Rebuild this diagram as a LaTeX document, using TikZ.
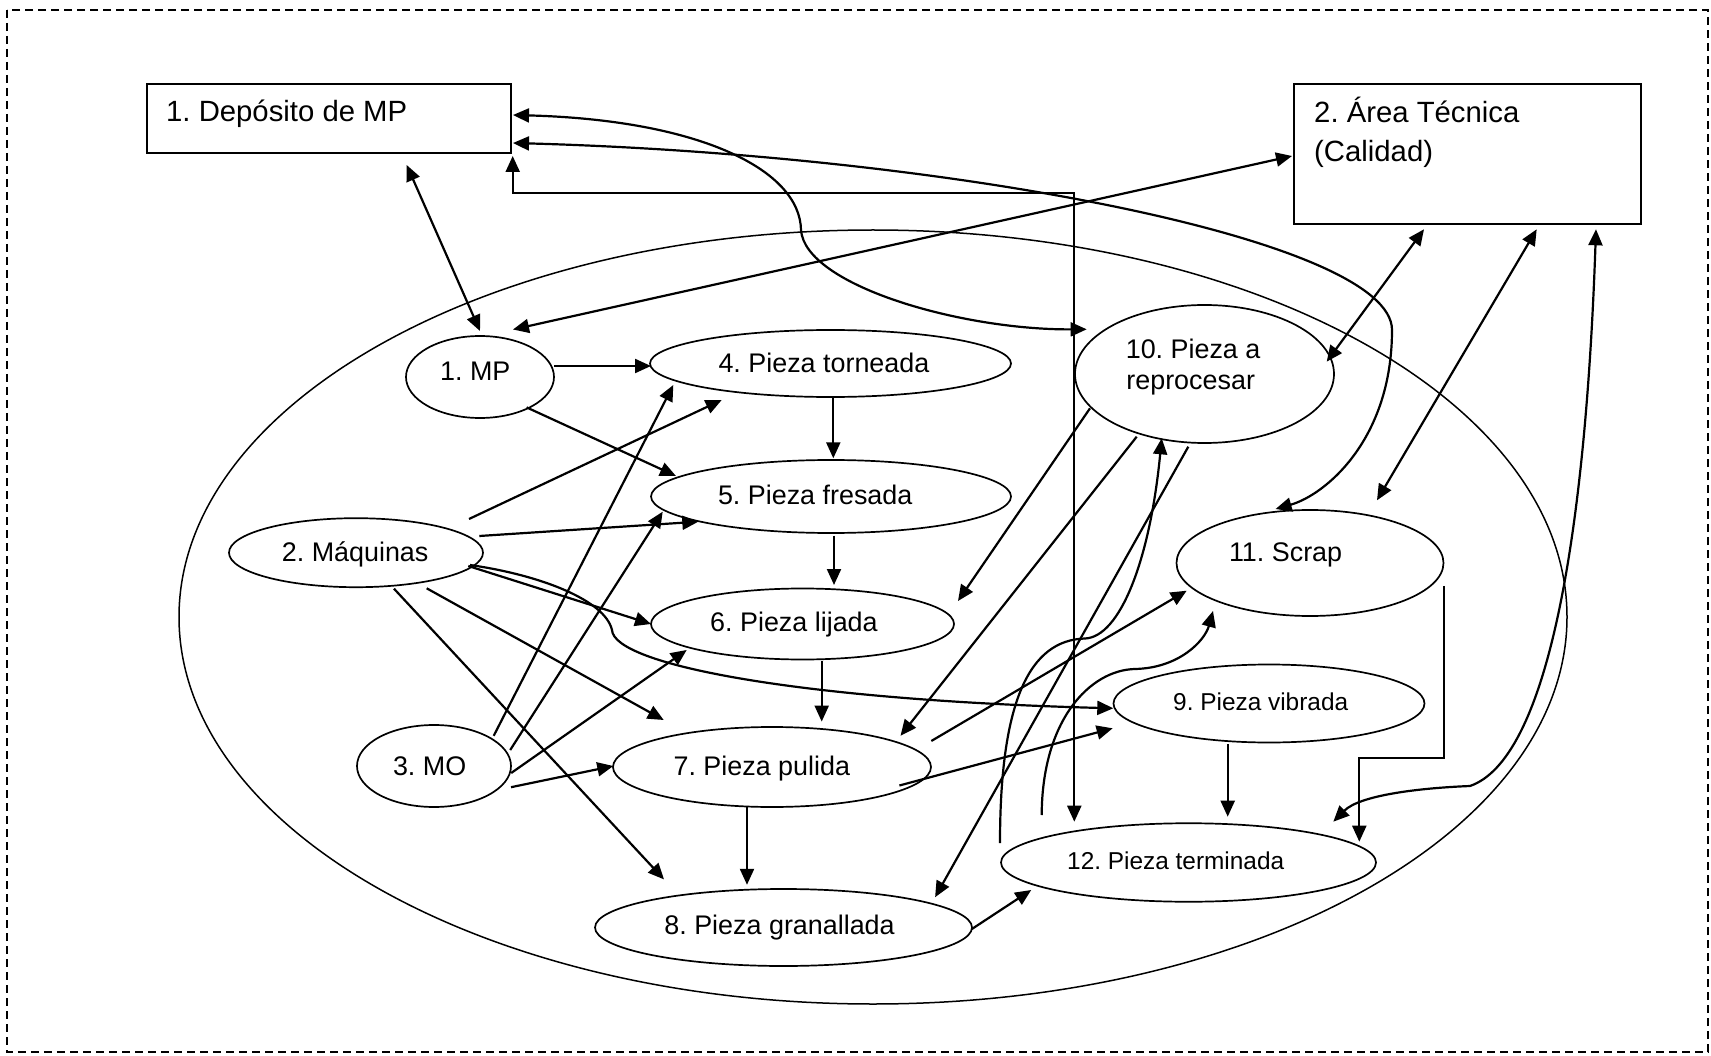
\documentclass[tikz,border=0pt]{standalone}
\usepackage{fontspec}
\setmainfont{Liberation Sans}
\usetikzlibrary{arrows.meta,calc,shapes.geometric}
\frenchspacing
\begin{document}
\begin{tikzpicture}[
  x=1pt, y=-1pt,
  >={Triangle[length=16pt,width=14pt]},
  flow/.style={line width=2.2pt,->},
  both/.style={line width=2.2pt,<->},
  proc/.style={draw,ellipse,line width=1.7pt,inner sep=0pt},
  zone/.style={draw,rectangle,line width=2pt,inner sep=0pt},
  frame/.style={line width=1.5pt,dash pattern=on 8pt off 5pt},
  lbl/.style={inner sep=0pt,anchor=base west,font=\fontsize{26.9}{31}\selectfont},
  lblbig/.style={lbl,font=\fontsize{29.3}{39}\selectfont},
  lblsmall/.style={lbl,font=\fontsize{24.4}{29}\selectfont},
]
% canvas and dashed frame
\fill[white,use as bounding box] (0,0) rectangle (1711,1056);
\draw[frame] (7,10) rectangle (1708,1052);

% plant boundary
\node[proc,line width=1.5pt,minimum width=1388pt,minimum height=774pt] (plant) at (873,617) {};

% external areas
\node[zone,minimum width=364pt,minimum height=69pt] (dep) at (329,118.5) {};
\node[zone,minimum width=347pt,minimum height=140pt] (area) at (1467.5,154) {};
\node[lblbig] (tdep) at (166,121.7) {1. Depósito de MP};
\node[lblbig] (tarea1) at (1314,122.7) {2. Área Técnica};
\node[lblbig] (tarea2) at (1314,161.7) {(Calidad)};

% inputs
\node[proc,minimum width=148pt,minimum height=82pt] (mp) at (480,377) {};
\node[proc,minimum width=254pt,minimum height=69pt] (maq) at (356,552.7) {};
\node[proc,minimum width=154pt,minimum height=82pt] (mo) at (434,766) {};
\node[lbl] (tmp) at (440,381) {1. MP};
\node[lbl] (tmaq) at (281.7,561) {2. Máquinas};
\node[lbl] (tmo) at (392.8,775) {3. MO};

% process stages
\node[proc,minimum width=361pt,minimum height=67pt] (p4) at (830.5,363.5) {};
\node[proc,minimum width=360pt,minimum height=73pt] (p5) at (831,496.5) {};
\node[proc,minimum width=303pt,minimum height=71pt] (p6) at (802.5,624) {};
\node[proc,minimum width=318pt,minimum height=80pt] (p7) at (772,767) {};
\node[proc,minimum width=377pt,minimum height=77pt] (p8) at (783.5,927.5) {};
\node[proc,minimum width=311pt,minimum height=78pt] (p9) at (1269,703.5) {};
\node[proc,minimum width=259pt,minimum height=138pt] (p10) at (1204.5,374) {};
\node[proc,minimum width=267pt,minimum height=106pt] (p11) at (1310,563) {};
\node[proc,minimum width=375pt,minimum height=78.5pt] (p12) at (1188.5,862.5) {};
\node[lbl] (t4) at (718.3,372.3) {4. Pieza torneada};
\node[lbl] (t5) at (717.8,504.3) {5. Pieza fresada};
\node[lbl] (t6) at (710,631.7) {6. Pieza lijada};
\node[lbl] (t7) at (673.4,775) {7. Pieza pulida};
\node[lbl] (t8) at (664.2,934.4) {8. Pieza granallada};
\node[lblsmall] (t9) at (1173,710) {9. Pieza vibrada};
\node[lbl] (t10a) at (1125.6,359) {10. Pieza a};
\node[lbl] (t10b) at (1126.2,390) {reprocesar};
\node[lbl] (t11) at (1228.8,561) {11. Scrap};
\node[lblsmall] (t12) at (1067,869.3) {12. Pieza terminada};

% links with the external areas
\draw[both] ($(dep)+(77.7,46.5)$) -- ($(mp)+(0,-46)$);
\draw[both] ($(area)+(-175.5,2)$) -- ($(mp)+(33,-47.5)$);
\draw[both] ($(dep)+(184,-3.5)$) .. controls (700,120) and (800,170) .. (801,230)
  .. controls (805,285) and (960,330) .. ($(p10)+(-117.8,-44.7)$);
\draw[both] ($(dep)+(184,24.5)$) .. controls (950,155) and (1392,240) .. (1392,330)
  .. controls (1392,440) and (1325,495) .. ($(p11)+(-34.4,-54)$);
\draw[both] ($(dep)+(183.7,37.5)$) |- ($(p12)+(-114.2,-669.2)$) -- ($(p12)+(-114.2,-40.8)$);
\draw[both] ($(area)+(-43.5,75.3)$) -- ($(p10)+(122.2,-12.3)$);
\draw[both] ($(area)+(69.2,75.3)$) -- ($(p11)+(67,-62.7)$);
\draw[both] ($(area)+(128.5,75.3)$) .. controls (1585,550) and (1545,760) .. (1470,786)
  .. controls (1420,788) and (1360,795) .. ($(p12)+(144.8,-40.8)$);

% raw material
\draw[flow] ($(mp)+(74,-11)$) -- ($(p4)+(-179.5,2.5)$);
\draw[flow] ($(mp)+(46.6,30.4)$) -- ($(p5)+(-155,-20.5)$);

% machines
\draw[flow] ($(maq)+(113,-33.7)$) -- ($(p4)+(-108.8,36.5)$);
\draw[flow] ($(maq)+(123.3,-16.7)$) -- ($(p5)+(-132.7,25.2)$);
\draw[flow] ($(maq)+(112.3,13.3)$) -- ($(p6)+(-151.5,0)$);
\draw[flow] ($(maq)+(114,12.3)$) .. controls (540,575) and (605,600) .. (612,630)
  .. controls (614,665) and (800,700) .. ($(p9)+(-155.7,4.8)$);
\draw[flow] ($(maq)+(70.7,35.6)$) -- ($(p7)+(-108.3,-47)$);
\draw[flow] ($(maq)+(38,36)$) -- ($(p8)+(-119.5,-48.1)$);

% labour
\draw[flow] ($(mo)+(59.7,-30.2)$) -- ($(p4)+(-157.2,21.5)$);
\draw[flow] ($(mo)+(76.2,-16)$) -- ($(p5)+(-168.3,15.2)$);
\draw[flow] ($(mo)+(77.2,7)$) -- ($(p6)+(-115.8,26)$);
\draw[flow] ($(mo)+(77,21.2)$) -- ($(p7)+(-158.7,-1)$);

% main process chain
\draw[flow] ($(p4)+(2.8,34.8)$) -- ($(p5)+(2.3,-38.2)$);
\draw[flow] ($(p5)+(3,39)$) -- ($(p6)+(31.5,-39)$);
\draw[flow] ($(p6)+(19.2,37)$) -- ($(p7)+(49.7,-45.4)$);
\draw[flow] ($(p7)+(-25,39.7)$) -- ($(p8)+(-36.5,-42.7)$);
\draw[flow] ($(p8)+(188.4,1.5)$) -- ($(p12)+(-157.3,27.5)$);
\draw[flow] ($(p7)+(127.4,18.5)$) -- ($(p9)+(-156.3,24.8)$);
\draw[flow] ($(p7)+(159.3,-26)$) -- ($(p11)+(-123.3,27.7)$);
\draw[flow] ($(p9)+(-41.3,40.5)$) -- ($(p12)+(39.2,-45.8)$);
\draw[flow] ($(p11)+(134,22.8)$) -- ++(0,172.5) -| ($(p12)+(170.8,-20.8)$);

% rework
\draw[flow] ($(p10)+(-114.5,34.3)$) -- ($(p6)+(155.5,-23)$);
\draw[flow] ($(p10)+(-67.8,62.7)$) -- ($(p7)+(128.5,-31.2)$);
\draw[flow] ($(p10)+(-16.2,72.7)$) -- ($(p8)+(151.6,-30.3)$);
\draw[flow] ($(p12)+(-188.5,-19.5)$) .. controls (1000,700) and (1030,640) .. (1085,638.5)
  .. controls (1120,637) and (1150,560) .. ($(p10)+(-42.8,64.3)$);
\draw[flow] ($(p12)+(-146.8,-47.5)$) .. controls (1042,720) and (1090,670) .. (1135,669)
  .. controls (1180,668) and (1205,640) .. ($(p11)+(-97,48)$);
\end{tikzpicture}
\end{document}
